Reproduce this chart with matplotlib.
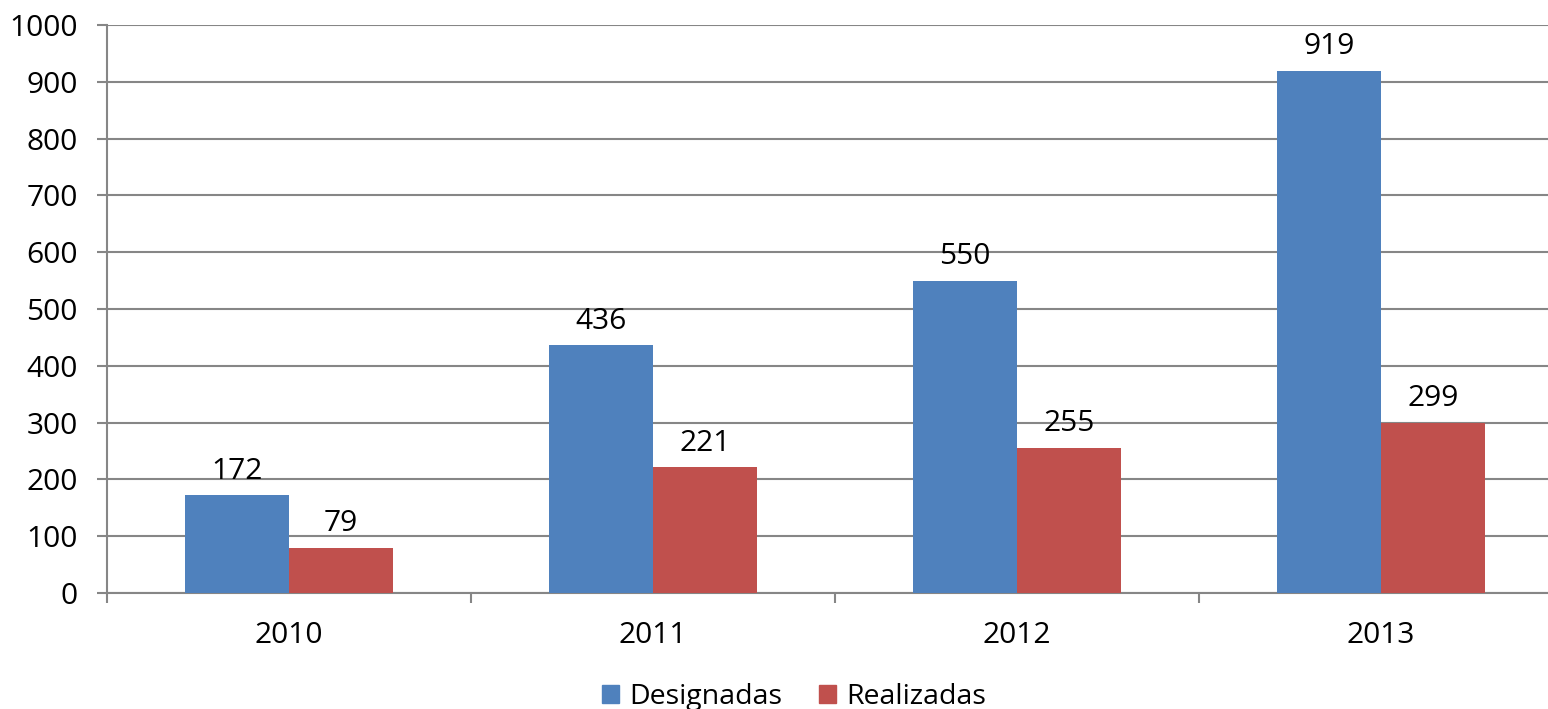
import matplotlib
matplotlib.use("Agg")
import matplotlib.pyplot as plt
from matplotlib.patches import Patch
import numpy as np

years = ["2010", "2011", "2012", "2013"]
designadas = [172, 436, 550, 919]
realizadas = [79, 221, 255, 299]
yticks = [0, 100, 200, 300, 400, 500, 600, 700, 800, 900, 1000]

plt.rcParams['font.family'] = ['Open Sans', 'DejaVu Sans']

W, H = 1548, 709
fig = plt.figure(figsize=(W / 100, H / 100), dpi=100)
left, right, top, bottom = 107, 107 + 4 * 364, 25, 593
ax = fig.add_axes([left / W, 1 - bottom / H, (right - left) / W, (bottom - top) / H])

blue = "#4F81BD"
red = "#C0504D"
grid = "#868686"
x = np.arange(len(years))
bw = 0.286
b1 = ax.bar(x - bw / 2, designadas, bw, color=blue, zorder=3)
b2 = ax.bar(x + bw / 2, realizadas, bw, color=red, zorder=3)

fs = 21.5
for bars, vals in ((b1, designadas), (b2, realizadas)):
    for r, v in zip(bars, vals):
        ax.annotate(str(v), (r.get_x() + r.get_width() / 2, v), xytext=(0, 7),
                    textcoords="offset points", ha="center", va="bottom", fontsize=fs)

ax.set_xlim(-0.5, 3.5)
ax.set_ylim(0, 1000)
ax.set_yticks(yticks)
ax.set_yticklabels([str(t) for t in yticks], fontsize=fs)
ax.yaxis.grid(True, color=grid, linewidth=1.5, zorder=0)
ax.set_xticks(x)
ax.set_xticklabels(years, fontsize=fs)
ax.tick_params(axis='x', length=0, pad=20)
ax.set_xticks(np.arange(-0.5, 3.6, 1), minor=True)
ax.tick_params(axis='x', which='minor', length=7, width=1.5, color=grid)
ax.tick_params(axis='y', length=7, width=1.5, color=grid, pad=14)
for s in ("top", "right"):
    ax.spines[s].set_visible(False)
ax.spines["left"].set_color(grid)
ax.spines["left"].set_linewidth(1.5)
ax.spines["bottom"].set_color(grid)
ax.spines["bottom"].set_linewidth(1.5)

handles = [Patch(color=blue, label="Designadas"), Patch(color=red, label="Realizadas")]
fig.legend(handles=handles, loc="center", bbox_to_anchor=(794 / W, 1 - 697 / H), ncol=2,
           frameon=False, fontsize=20.5, handlelength=0.6, handleheight=0.6,
           handletextpad=0.35, columnspacing=1.3)

fig.savefig("out.png", dpi=100)
